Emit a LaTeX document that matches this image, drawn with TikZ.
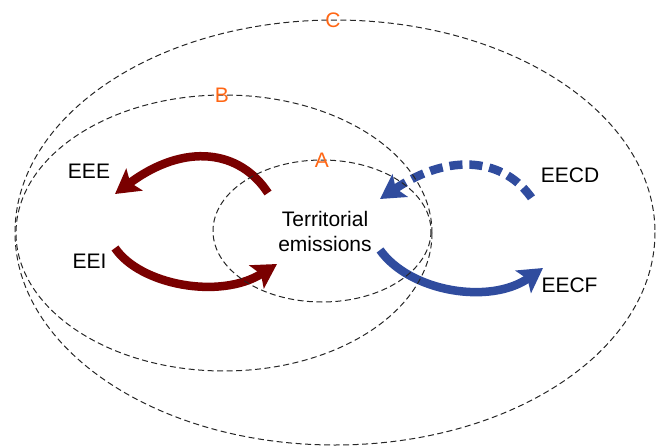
\documentclass[tikz,border=0pt]{standalone}
\usepackage{fontspec}
\setmainfont{Liberation Sans}
\usetikzlibrary{arrows.meta}
\definecolor{darkred}{RGB}{122,0,0}
\definecolor{flowblue}{RGB}{48,76,158}
\definecolor{lblorange}{RGB}{255,102,20}
\tikzset{
  ring/.style={draw=black!85, line width=1pt, dash pattern=on 6pt off 3.5pt},
  txt/.style={inner sep=0pt, font=\fontsize{21}{25}\selectfont},
  ringlabel/.style={inner sep=0pt, text=lblorange, font=\fontsize{21}{24}\selectfont},
  bigarrow/.style={line width=8.5pt, -{Stealth[length=24pt, width=27pt, inset=5pt]}},
  redflow/.style={bigarrow, draw=darkred},
  blueflow/.style={bigarrow, draw=flowblue},
  dashflow/.style={line width=8.5pt, draw=flowblue, {Stealth[length=24pt, width=27pt, inset=5pt]}-, dash pattern=on 13pt off 7pt}
}
\begin{document}
\begin{tikzpicture}[x=1pt, y=-1pt]
\useasboundingbox (0,0) rectangle (659,447);
% text nodes
\node[txt] (terr) at (325,231.5) [align=center] {Territorial\\emissions};
\node[txt] (eee) at (89,171) {EEE};
\node[txt] (eei) at (89.5,261) {EEI};
\node[txt] (eecd) at (570,175) {EECD};
\node[txt] (eecf) at (569.5,285) {EECF};
% arrow end points
\coordinate (eeeS) at (268,193);
\coordinate (eeeE) at (115,194);
\coordinate (eeiS) at (115,248);
\coordinate (eeiE) at (277,264);
\coordinate (eecdS) at (533,200);
\coordinate (eecdE) at (380,199);
\coordinate (eecfS) at (380,250);
\coordinate (eecfE) at (543,268);
% arrows
\draw[redflow] (eeeS) .. controls (240,150) and (185,142) .. (eeeE);
\draw[redflow] (eeiS) .. controls (140,285) and (220,300) .. (eeiE);
\draw[dashflow] (eecdE) .. controls (450,152) and (505,158) .. (eecdS);
\draw[blueflow] (eecfS) .. controls (410,292) and (490,305) .. (eecfE);
% rings
\draw[ring] (335,232.5) ellipse [x radius=320, y radius=212.5];
\draw[ring] (224,233) ellipse [x radius=208, y radius=138];
\draw[ring] (322,231) ellipse [x radius=109, y radius=71];
% ring labels
\node[ringlabel] (labC) at (333,20) {C};
\node[ringlabel] (labB) at (222,95) {B};
\node[ringlabel] (labA) at (322,160) {A};
\end{tikzpicture}
\end{document}
